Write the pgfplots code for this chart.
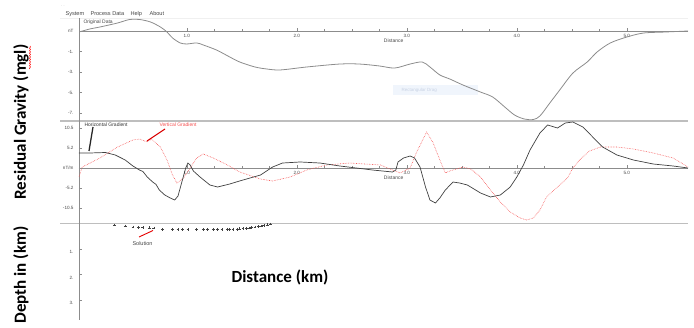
\documentclass[border=0pt]{standalone}
\usepackage{fontspec}
\setmainfont{Liberation Sans}
\newfontfamily\calfont{Carlito}
\usepackage{pgfplots}
\pgfplotsset{compat=1.18}
\usetikzlibrary{decorations.pathmorphing}
\definecolor{tickgray}{RGB}{70,70,70}
\definecolor{axgray}{RGB}{140,140,140}
\definecolor{curvegray}{RGB}{140,140,140}
\definecolor{redgrad}{RGB}{245,80,80}
\definecolor{seprgray}{RGB}{190,190,190}
\definecolor{tipblue}{RGB}{240,245,252}
\definecolor{tiptext}{RGB}{200,210,228}
\begin{document}
\begin{tikzpicture}[x=1pt,y=1pt]
\useasboundingbox (0,0) rectangle (694,327);
\pgfplotsset{
  panel/.style={
    scale only axis, width=609pt,
    xmin=0.02, xmax=5.556,
    axis line style={axgray, line width=0.6pt},
    tick style={axgray, line width=0.5pt},
    major tick length=3pt, minor tick length=2pt,
    tick label style={font=\fontsize{4.6}{5}\selectfont, text=tickgray},
    /pgf/number format/assume math mode=true,
    anchor=south west,
  }
}
% separators
\draw[gray!12, line width=0.6pt] (60,309) -- (688,309);
\draw[seprgray, line width=1.2pt] (60,206) -- (688,206);
\draw[seprgray, line width=1.2pt] (60,103.5) -- (688,103.5);
% tooltip box
\fill[tipblue] (393,232) rectangle (478,242);
\node[font=\fontsize{4.5}{5}\selectfont, text=tiptext, anchor=west] at (398,237) {Rectangular Drag};

% ---------- top panel ----------
\begin{axis}[panel, at={(79pt,206pt)}, height=103pt, ymin=-7.90, ymax=1.14,
  axis x line*=middle, axis y line*=left,
  xtick={1,2,3,4,5}, xticklabels={1.0,2.0,3.0,4.0,5.0}, minor x tick num=3,
  ytick={0,-1.8,-3.6,-5.4,-7.2}, yticklabels={nT,-1.,-3.,-5.,-7.},
  yticklabel style={xshift=-2pt}]
\addplot[curvegray, line width=0.8pt, smooth, tension=0.5] coordinates {
(0.02,-0.09) (0.12,0.18) (0.21,0.35) (0.37,0.70) (0.48,1.01) (0.57,1.01)
(0.67,0.79) (0.76,0.35) (0.82,-0.09) (0.87,-0.61) (0.94,-1.05) (1.00,-1.14)
(1.09,-1.05) (1.15,-1.23) (1.27,-1.67) (1.39,-2.28) (1.48,-2.72) (1.62,-3.16)
(1.73,-3.34) (1.85,-3.42) (2.09,-3.16) (2.39,-2.90) (2.57,-2.90) (2.75,-3.07)
(2.89,-3.25) (3.03,-2.90) (3.14,-2.72) (3.21,-3.16) (3.30,-3.86) (3.39,-4.21)
(3.51,-4.74) (3.67,-5.36) (3.78,-5.79) (3.89,-6.67) (3.98,-7.38) (4.07,-7.73)
(4.15,-7.77) (4.21,-7.46) (4.30,-6.32) (4.39,-5.18) (4.51,-3.69) (4.64,-2.72)
(4.73,-1.84) (4.85,-1.05) (5.00,-0.53) (5.15,-0.18) (5.35,-0.09) (5.556,0)
};
\node[font=\fontsize{5}{6}\selectfont, text=tickgray] at (axis cs:2.88,-0.85) {Distance};
\end{axis}

% ---------- middle panel ----------
\begin{axis}[panel, at={(79pt,103pt)}, height=103pt, ymin=-14.7, ymax=12.34,
  axis x line*=middle, axis y line*=left,
  xtick={1,2,3,4,5}, xticklabels={1.0,2.0,3.0,4.0,5.0}, minor x tick num=3,
  ytick={-10.5,-5.25,0,5.25,10.5}, yticklabels={-10.5,-5.2,nT/m,5.2,10.5},
  yticklabel style={xshift=-2pt}]
\addplot[redgrad, densely dotted, line width=0.6pt] coordinates {
(0.02,-2.36) (0.05,0.26) (0.21,2.63) (0.37,5.51) (0.51,7.35) (0.57,7.61)
(0.64,6.83) (0.68,7.61) (0.76,5.51) (0.82,2.10) (0.87,-1.84) (0.91,-3.94)
(0.97,-2.63) (1.03,0) (1.09,2.63) (1.15,3.68) (1.24,2.63) (1.37,0.79)
(1.48,-1.05) (1.67,-2.89) (1.78,-3.41) (1.94,-2.36) (2.09,-0.53) (2.27,0.79)
(2.48,1.31) (2.76,0.79) (2.87,-0.53) (2.94,-1.31) (3.03,0) (3.09,4.20)
(3.18,9.45) (3.24,6.56) (3.30,2.10) (3.35,-1.31) (3.39,-0.79) (3.51,0.26)
(3.58,-0.26) (3.67,-2.36) (3.76,-5.78) (3.85,-8.93) (3.94,-11.55) (4.03,-13.13)
(4.09,-13.65) (4.15,-13.13) (4.21,-11.03) (4.27,-7.61) (4.36,-5.25) (4.46,-2.63)
(4.51,0) (4.57,2.10) (4.66,4.46) (4.76,5.51) (4.91,5.51) (5.06,4.99)
(5.24,3.94) (5.42,2.63) (5.556,0.26)
};
\addplot[black!75, line width=0.7pt] coordinates {
(0.02,3.94) (0.12,3.94) (0.26,4.07) (0.35,3.41) (0.44,2.10) (0.51,0.53)
(0.57,-0.53) (0.60,-0.9) (0.62,-1.6) (0.64,-2.36) (0.69,-3.68) (0.72,-4.3)
(0.75,-5.78) (0.80,-7.09) (0.85,-7.88)
(0.89,-8.40) (0.92,-7.35) (0.95,-4.20) (0.97,-2.10) (0.99,0) (1.01,1.31)
(1.03,0.79) (1.06,-0.79) (1.12,-2.36) (1.21,-4.46) (1.28,-4.99) (1.39,-4.20)
(1.48,-3.41) (1.67,-1.84) (1.78,0.26) (1.87,1.31) (2.03,1.58) (2.21,1.31)
(2.39,0.53) (2.69,-0.53) (2.87,-1.05) (2.90,-0.53) (2.92,1.58) (2.97,2.63)
(3.03,3.15) (3.07,2.63) (3.12,0.26) (3.17,-4.99) (3.21,-8.40) (3.26,-9.19)
(3.30,-7.88) (3.35,-5.78) (3.42,-3.68) (3.48,-3.94) (3.55,-4.46) (3.67,-6.56)
(3.76,-7.61) (3.85,-7.09) (3.94,-4.99) (4.00,-2.36) (4.06,0.79) (4.12,4.73)
(4.21,9.19) (4.28,11.29) (4.37,10.50) (4.44,11.81) (4.51,12.08) (4.60,10.76)
(4.69,8.14) (4.78,5.51) (4.91,3.41) (5.06,2.10) (5.24,1.05) (5.42,0.53)
(5.556,0)
};
\node[font=\fontsize{5}{6}\selectfont, text=tickgray] at (axis cs:2.88,-2.6) {Distance};
\end{axis}

% ---------- bottom panel ----------
\begin{axis}[panel, at={(79pt,7pt)}, height=96.5pt, ymin=0, ymax=3.78, y dir=reverse,
  axis x line=none, axis y line*=left,
  ytick={1,2,3}, yticklabels={1.,2.,3.},
  yticklabel style={xshift=-2pt, yshift=-3pt}]
\addplot[only marks, mark=+, mark size=1.4pt, black!75, mark options={line width=0.45pt}] coordinates {
(0.34,0.06) (0.44,0.10) (0.51,0.14) (0.56,0.16) (0.60,0.16) (0.66,0.17)
(0.70,0.18) (0.78,0.24) (0.87,0.24) (0.92,0.24) (0.96,0.24) (1.01,0.24)
(1.09,0.24) (1.15,0.24) (1.19,0.24) (1.24,0.24) (1.28,0.24) (1.32,0.24)
(1.37,0.23) (1.39,0.23) (1.42,0.22) (1.46,0.22) (1.48,0.21) (1.51,0.20)
(1.54,0.19) (1.57,0.18) (1.59,0.16) (1.62,0.14) (1.65,0.12) (1.68,0.10)
(1.70,0.08) (1.73,0.05) (1.76,0.02)
};
\end{axis}

% ---------- annotations ----------
\node[font=\fontsize{3.5}{4}\selectfont, text=gray] at (63,321) {. .};
\begin{scope}[font=\fontsize{5.6}{6}\selectfont, text=tickgray]
\node[anchor=west] at (62,313) {System};
\node[anchor=west] at (87,313) {Process Data};
\node[anchor=west] at (127,313) {Help};
\node[anchor=west] at (146,313) {About};
\end{scope}
\node[anchor=west, font=\fontsize{5}{6}\selectfont, text=tickgray] at (80,304.5) {Original Data};
\node[anchor=west, font=\fontsize{5}{6}\selectfont, text=black!80] at (81,202.5) {Horizontal Gradient};
\draw[black!85, line width=1.3pt] (93,200) -- (89,176);
\node[anchor=west, font=\fontsize{5}{6}\selectfont, text=redgrad] at (156,202.5) {Vertical Gradient};
\draw[red!85!black, line width=1.1pt] (165,198) -- (147,186);
\node[anchor=west, font=\fontsize{5.5}{6}\selectfont, text=tickgray] at (129,83) {Solution};
\draw[red!90!black, line width=0.9pt] (139,90) -- (153,96.5);

% big labels
\node[rotate=90, font=\calfont\bfseries\fontsize{17}{20}\selectfont] at (21,205) {Residual Gravity (mgl)};
\draw[red, line width=0.5pt, decorate, decoration={snake, amplitude=0.6pt, segment length=2.5pt}] (30,258) -- (30,281);
\node[rotate=90, font=\calfont\bfseries\fontsize{17}{20}\selectfont] at (21,52) {Depth in (km)};
\node[font=\calfont\bfseries\fontsize{17}{20}\selectfont] at (280,50) {Distance (km)};
\end{tikzpicture}
\end{document}
